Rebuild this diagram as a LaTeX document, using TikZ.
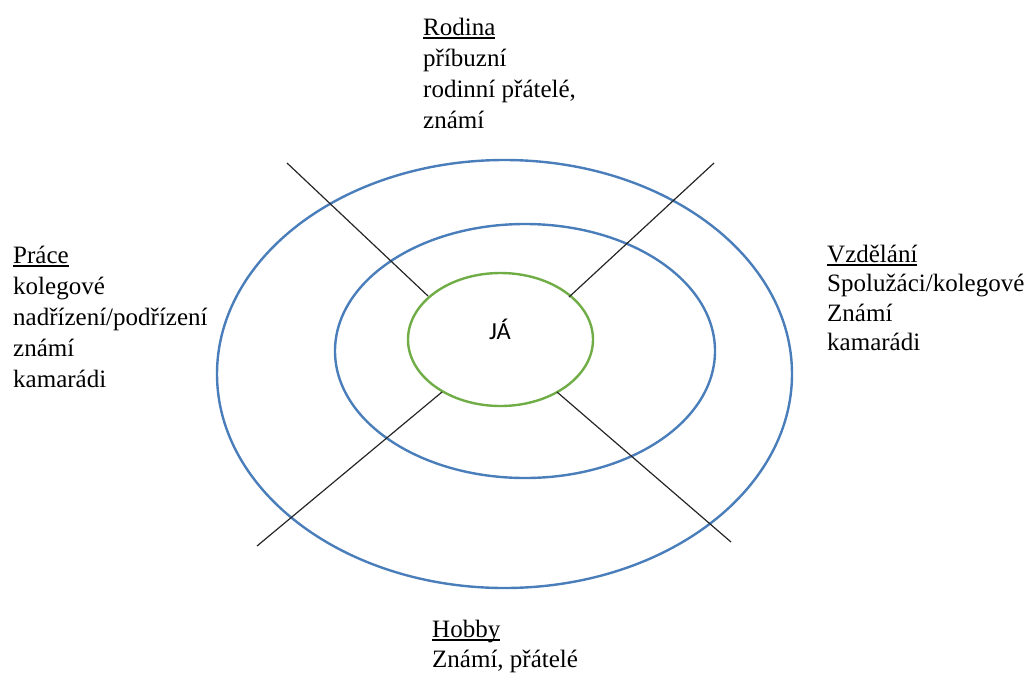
\documentclass[tikz,border=0pt]{standalone}
\usepackage{fontspec}
\setmainfont{Liberation Serif}
\newfontfamily\calfont{Carlito}
\usetikzlibrary{shapes.geometric}
\definecolor{ringblue}{HTML}{4A7EBB}
\definecolor{coregreen}{HTML}{70AD47}
% heading with an underline at a fixed offset below the baseline
\newcommand\headline[1]{\setbox0\hbox{#1}\rlap{\rule[-3.5pt]{\wd0}{1.1pt}}\box0}
\begin{document}
\begin{tikzpicture}[x=1pt,y=-1pt,
  ring/.style={ellipse,draw=ringblue,line width=2.4pt,inner sep=0pt},
  core/.style={ellipse,draw=coregreen,line width=2.4pt,inner sep=0pt},
  spoke/.style={draw=black!85,line width=1.2pt},
  label/.style={font=\fontsize{25}{31}\selectfont,align=left,anchor=base west,inner sep=0pt}]
\useasboundingbox (0,0) rectangle (1027,673);

% concentric circles of relationships
\node[ring,minimum width=575pt,minimum height=428pt] (outer) at (504.5,374) {};
\node[ring,minimum width=380pt,minimum height=254pt] (middle) at (525,351) {};
\node[core,minimum width=185pt,minimum height=133pt] (ja) at (500.5,339.5) {};
\node[font=\calfont\fontsize{24.5}{28}\selectfont,anchor=base,inner sep=0pt] (jatext) at (500,339) {JÁ};

% spokes separating the four areas
\coordinate (s1a) at (287,163);  \coordinate (s1b) at (428,296);
\coordinate (s2a) at (714,163);  \coordinate (s2b) at (569,297);
\coordinate (s3a) at (257,546);  \coordinate (s3b) at (442,392);
\coordinate (s4a) at (731,542);  \coordinate (s4b) at (557,392);
\draw[spoke] (s1a) -- (s1b);
\draw[spoke] (s2a) -- (s2b);
\draw[spoke] (s3a) -- (s3b);
\draw[spoke] (s4a) -- (s4b);

% area labels (anchored at the baseline of their last line)
\node[label] (rodina) at (423,128) {\headline{Rodina}\\příbuzní\\rodinní přátelé,\\známí};
\node[label] (prace) at (13,387) {\headline{Práce}\\kolegové\\nadřízení/podřízení\\známí\\kamarádi};
\node[label,font=\fontsize{25}{29.5}\selectfont] (vzdelani) at (827,350.5) {\headline{Vzdělání}\\Spolužáci/kolegové\\Známí\\kamarádi};
\node[label,font=\fontsize{25}{30}\selectfont] (hobby) at (432,667) {\headline{Hobby}\\Známí, přátelé};
\end{tikzpicture}
\end{document}
